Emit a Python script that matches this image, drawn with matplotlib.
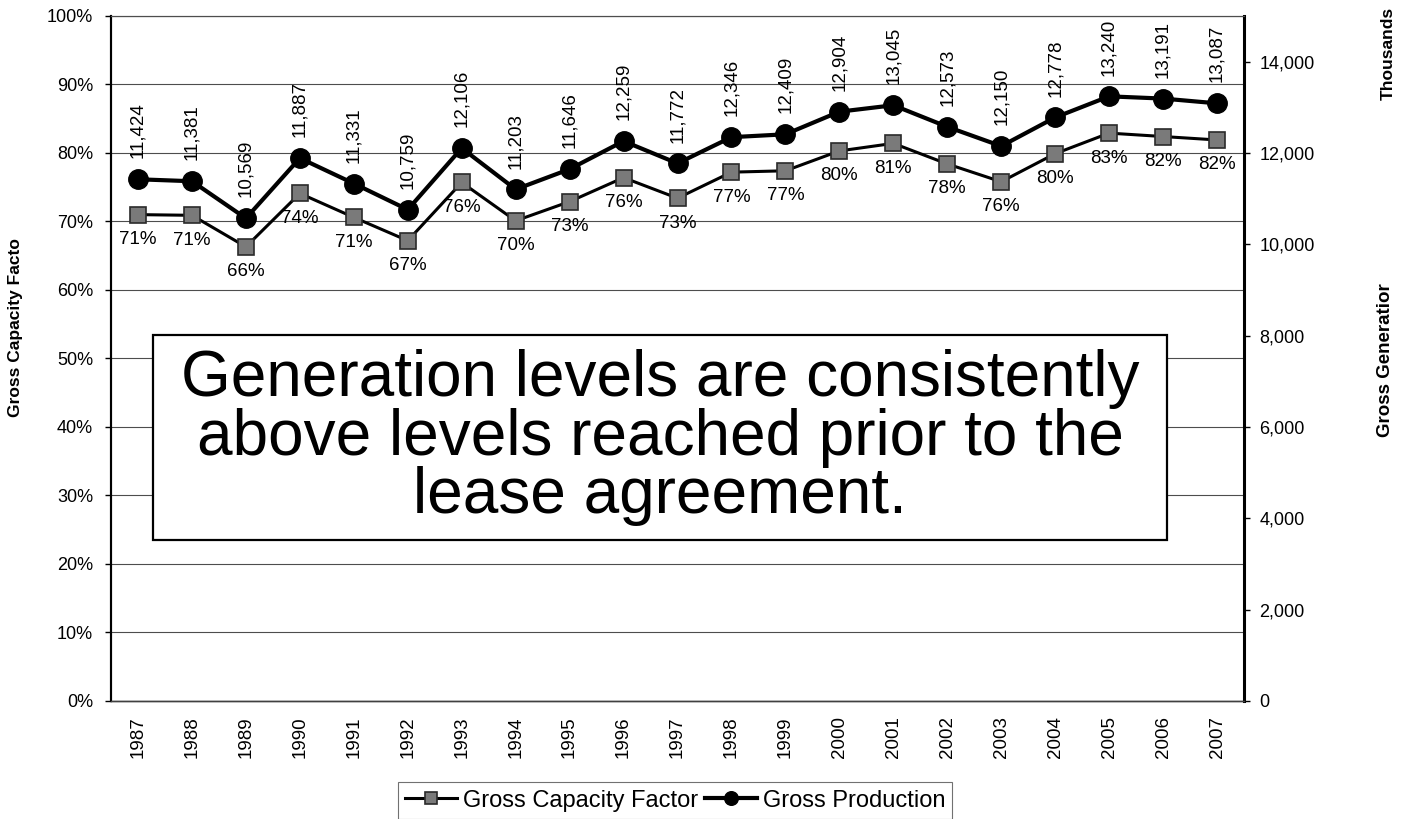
import matplotlib.pyplot as plt
from matplotlib.patches import Rectangle
from matplotlib.ticker import FuncFormatter, MultipleLocator

plt.rcParams['font.family'] = ['Liberation Sans', 'DejaVu Sans']

years = ['1987', '1988', '1989', '1990', '1991', '1992', '1993', '1994', '1995', '1996', '1997',
         '1998', '1999', '2000', '2001', '2002', '2003', '2004', '2005', '2006', '2007']
# gross capacity factor (fraction)
capacity = [0.710, 0.709, 0.663, 0.741, 0.706, 0.672, 0.757, 0.701, 0.729, 0.764, 0.734,
            0.772, 0.774, 0.803, 0.814, 0.784, 0.758, 0.799, 0.829, 0.824, 0.819]
# gross production (thousands)
production = [11424, 11381, 10569, 11887, 11331, 10759, 12106, 11203, 11646, 12259, 11772,
              12346, 12409, 12904, 13045, 12573, 12150, 12778, 13240, 13191, 13087]

fig = plt.figure(figsize=(14.02, 8.19), dpi=100)
ax = fig.add_axes((0.0792, 0.1441, 0.8081, 0.8364))
ax2 = ax.twinx()

x = list(range(len(years)))

l1, = ax.plot(x, capacity, color='black', lw=2.2, marker='s', markersize=12,
              markerfacecolor='#7a7a7a', markeredgecolor='#2a2a2a', markeredgewidth=1.2,
              label='Gross Capacity Factor', zorder=3)
l2, = ax2.plot(x, production, color='black', lw=3, marker='o', markersize=14,
               markerfacecolor='black', markeredgecolor='black',
               label='Gross Production', zorder=3)

# data labels
for xi, v in zip(x, capacity):
    ax.annotate('{:.0%}'.format(v), (xi, v), xytext=(0, -18), textcoords='offset points',
                ha='center', va='center', fontsize=13.5)
for xi, v in zip(x, production):
    ax2.annotate('{:,}'.format(v), (xi, v), xytext=(0, 15), textcoords='offset points',
                 ha='center', va='bottom', rotation=90, fontsize=13.5)

# left axis
ax.set_xlim(-0.5, len(years) - 0.5)
ax.set_ylim(0, 1)
ax.yaxis.set_major_locator(MultipleLocator(0.1))
ax.yaxis.set_major_formatter(FuncFormatter(lambda v, p: '{:.0%}'.format(v)))
ax.set_xticks(x)
ax.set_xticklabels(years, rotation=90, fontsize=13.5)
ax.tick_params(axis='x', length=0, pad=11)
ax.tick_params(axis='y', direction='out', length=4, width=1, pad=9, labelsize=13)
ax.grid(axis='y', color='0.3', lw=0.8)
ax.set_axisbelow(True)

# right axis
ax2.set_ylim(0, 15000)
ax2.set_yticks(range(0, 14001, 2000))
ax2.yaxis.set_major_formatter(FuncFormatter(lambda v, p: '{:,.0f}'.format(v)))
ax2.tick_params(axis='y', direction='out', length=4, width=1, pad=7, labelsize=13)

for a in (ax, ax2):
    a.spines['top'].set_color('0.3')
    a.spines['top'].set_linewidth(0.8)
    a.spines['bottom'].set_color('0.25')
    a.spines['bottom'].set_linewidth(1)
    a.spines['left'].set_linewidth(1.5)
ax2.spines['right'].set_linewidth(2.2)

# axis titles (cut off as in the original)
fig.text(0.011, 0.600, 'Gross Capacity Facto', rotation=90, ha='center', va='center',
         fontsize=12.5, fontweight='bold')
fig.text(0.990, 0.935, 'Thousands', rotation=90, ha='center', va='center',
         fontsize=12.5, fontweight='bold')
fig.text(0.988, 0.560, 'Gross Generatior', rotation=90, ha='center', va='center',
         fontsize=13.5, fontweight='bold')

# callout box
fig.patches.append(Rectangle((0.1091, 0.3407), 0.7233, 0.2503, transform=fig.transFigure,
                             facecolor='white', edgecolor='black', lw=1.6, zorder=5))
fig.text(0.4708, 0.4658,
         'Generation levels are consistently\nabove levels reached prior to the\nlease agreement.',
         ha='center', va='center', fontsize=46, linespacing=0.97, zorder=6)

leg = fig.legend(handles=[l1, l2], loc='lower center', bbox_to_anchor=(0.4815, -0.014),
                 ncol=2, fontsize=17, frameon=True, fancybox=False, handlelength=2.2,
                 handletextpad=0.25, columnspacing=0.3, borderpad=0.3, markerscale=0.7)
leg.get_frame().set_edgecolor('0.3')
leg.get_frame().set_linewidth(0.8)

fig.savefig('out.png', dpi=100)
